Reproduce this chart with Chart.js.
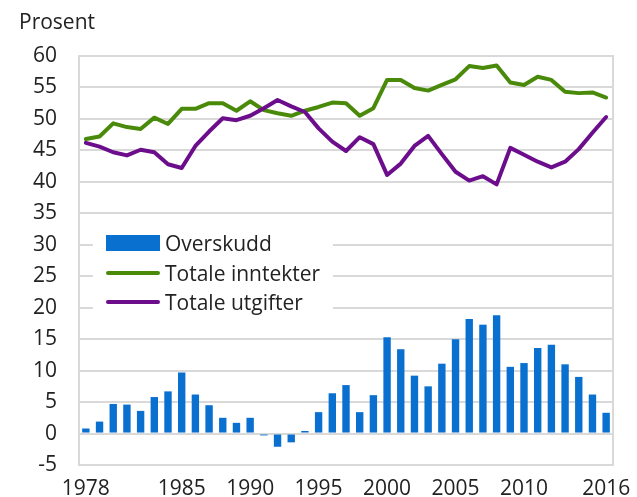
<!DOCTYPE html>
<html>
<head>
<meta charset="utf-8">
<script src="https://cdn.jsdelivr.net/npm/chart.js@4"></script>
<style>
  html, body { margin: 0; padding: 0; background: #fff; }
  #wrap { position: relative; width: 637px; height: 497px; }
  #legend {
    position: absolute; left: 93px; top: 227px; width: 240px; height: 89px;
    background: #fff; font: 21px 'Open Sans', sans-serif; color: #222;
  }
  .row { position: absolute; left: 13px; height: 30px; display: flex; align-items: center; }
  .sw { width: 54px; margin-right: 5px; }
</style>
</head>
<body>
<div id="wrap">
  <canvas id="chart" width="637" height="497"></canvas>
  <div id="legend"></div>
</div>
<script>
// kategorier og serier (prosent)
const years = ['1978','1979','1980','1981','1982','1983','1984','1985','1986','1987',
  '1988','1989','1990','1991','1992','1993','1994','1995','1996','1997',
  '1998','1999','2000','2001','2002','2003','2004','2005','2006','2007',
  '2008','2009','2010','2011','2012','2013','2014','2015','2016']
const shownYears = ['1978', '1985', '1990', '1995', '2000', '2005', '2010', '2016']

const overskudd = [0.8, 1.9, 4.7, 4.6, 3.6, 5.8, 6.7, 9.7, 6.2, 4.5,
  2.5, 1.7, 2.5, -0.3, -2.1, -1.4, 0.4, 3.4, 6.4, 7.7,
  3.4, 6.1, 15.3, 13.4, 9.2, 7.5, 11.1, 15.0, 18.2, 17.3,
  18.8, 10.6, 11.2, 13.6, 14.1, 11.0, 9.0, 6.2, 3.3]
const inntekter = [46.8, 47.2, 49.3, 48.7, 48.4, 50.2, 49.2, 51.6, 51.6, 52.5,
  52.5, 51.3, 52.8, 51.4, 50.9, 50.5, 51.3, 51.9, 52.6, 52.5,
  50.5, 51.7, 56.2, 56.2, 54.9, 54.5, 55.4, 56.3, 58.4, 58.1,
  58.5, 55.8, 55.4, 56.7, 56.2, 54.3, 54.1, 54.2, 53.4]
const utgifter = [46.2, 45.6, 44.7, 44.2, 45.1, 44.7, 42.8, 42.2, 45.7, 48.0,
  50.1, 49.8, 50.5, 51.7, 53.0, 52.0, 51.1, 48.5, 46.4, 44.9,
  47.1, 46.0, 41.1, 42.9, 45.7, 47.3, 44.4, 41.6, 40.2, 40.9,
  39.6, 45.4, 44.3, 43.2, 42.3, 43.2, 45.2, 47.8, 50.3]

const blue = '#0a70d0'
const green = '#4a8a0a'
const purple = '#6c0d8c'
const gridGray = '#d9d9d9'

Chart.defaults.font.family = "'Open Sans', sans-serif"
Chart.defaults.font.size = 21
Chart.defaults.color = '#222'

// "Prosent" over y-aksen
const unitLabel = {
  id: 'unitLabel',
  afterDraw(chart) {
    const c = chart.ctx
    c.save()
    c.font = "21px 'Open Sans', sans-serif"
    c.fillStyle = '#222'
    c.textBaseline = 'middle'
    c.fillText('Prosent', 19, 23)
    c.restore()
  }
}

const chart = new Chart(document.getElementById('chart'), {
  data: {
    labels: years,
    datasets: [
      { type: 'bar', label: 'Overskudd', data: overskudd, backgroundColor: blue,
        categoryPercentage: 1, barPercentage: 0.54, order: 3 },
      { type: 'line', label: 'Totale inntekter', data: inntekter, borderColor: green,
        borderWidth: 4, pointRadius: 0, tension: 0, borderCapStyle: 'round', borderJoinStyle: 'round', order: 2 },
      { type: 'line', label: 'Totale utgifter', data: utgifter, borderColor: purple,
        borderWidth: 4, pointRadius: 0, tension: 0, borderCapStyle: 'round', borderJoinStyle: 'round', order: 1 }
    ]
  },
  options: {
    responsive: false,
    animation: false,
    layout: { padding: { top: 56, left: 33, right: 24, bottom: 0 } },
    plugins: { legend: { display: false }, tooltip: { enabled: false } },
    scales: {
      x: {
        type: 'category',
        offset: true,
        grid: { display: false, drawTicks: false },
        border: { display: true, color: gridGray, width: 2 },
        ticks: {
          autoSkip: false, maxRotation: 0, padding: 11,
          callback(v) { const l = this.getLabelForValue(v); return shownYears.includes(l) ? l : '' }
        },
        afterFit(scale) { scale.height = 32; scale.paddingLeft = 0; scale.paddingRight = 0 }
      },
      y: {
        min: -5, max: 60,
        ticks: { stepSize: 5, padding: 22 },
        grid: { color: gridGray, lineWidth: 2, drawTicks: false },
        border: { display: true, color: gridGray, width: 2 },
        afterFit(scale) { scale.width = 46; scale.paddingTop = 0; scale.paddingBottom = 0 }
      },
      yRight: {
        position: 'right', min: -5, max: 60,
        ticks: { display: false },
        grid: { display: false, drawTicks: false },
        border: { display: true, color: gridGray, width: 2 },
        afterFit(scale) { scale.width = 0; scale.paddingTop = 0; scale.paddingBottom = 0 }
      }
    }
  },
  plugins: [unitLabel]
})

// legende i HTML
const legend = document.getElementById('legend')
chart.data.datasets.forEach((ds, i) => {
  const row = document.createElement('div')
  row.className = 'row'
  row.style.top = (1 + i * 29.5) + 'px'
  const sw = document.createElement('span')
  sw.className = 'sw'
  if (ds.type === 'bar') {
    sw.style.height = '16px'
    sw.style.background = ds.backgroundColor
  } else {
    sw.style.height = '4px'
    sw.style.borderRadius = '2px'
    sw.style.background = ds.borderColor
  }
  const txt = document.createElement('span')
  txt.textContent = ds.label
  row.appendChild(sw)
  row.appendChild(txt)
  legend.appendChild(row)
})
</script>
</body>
</html>
